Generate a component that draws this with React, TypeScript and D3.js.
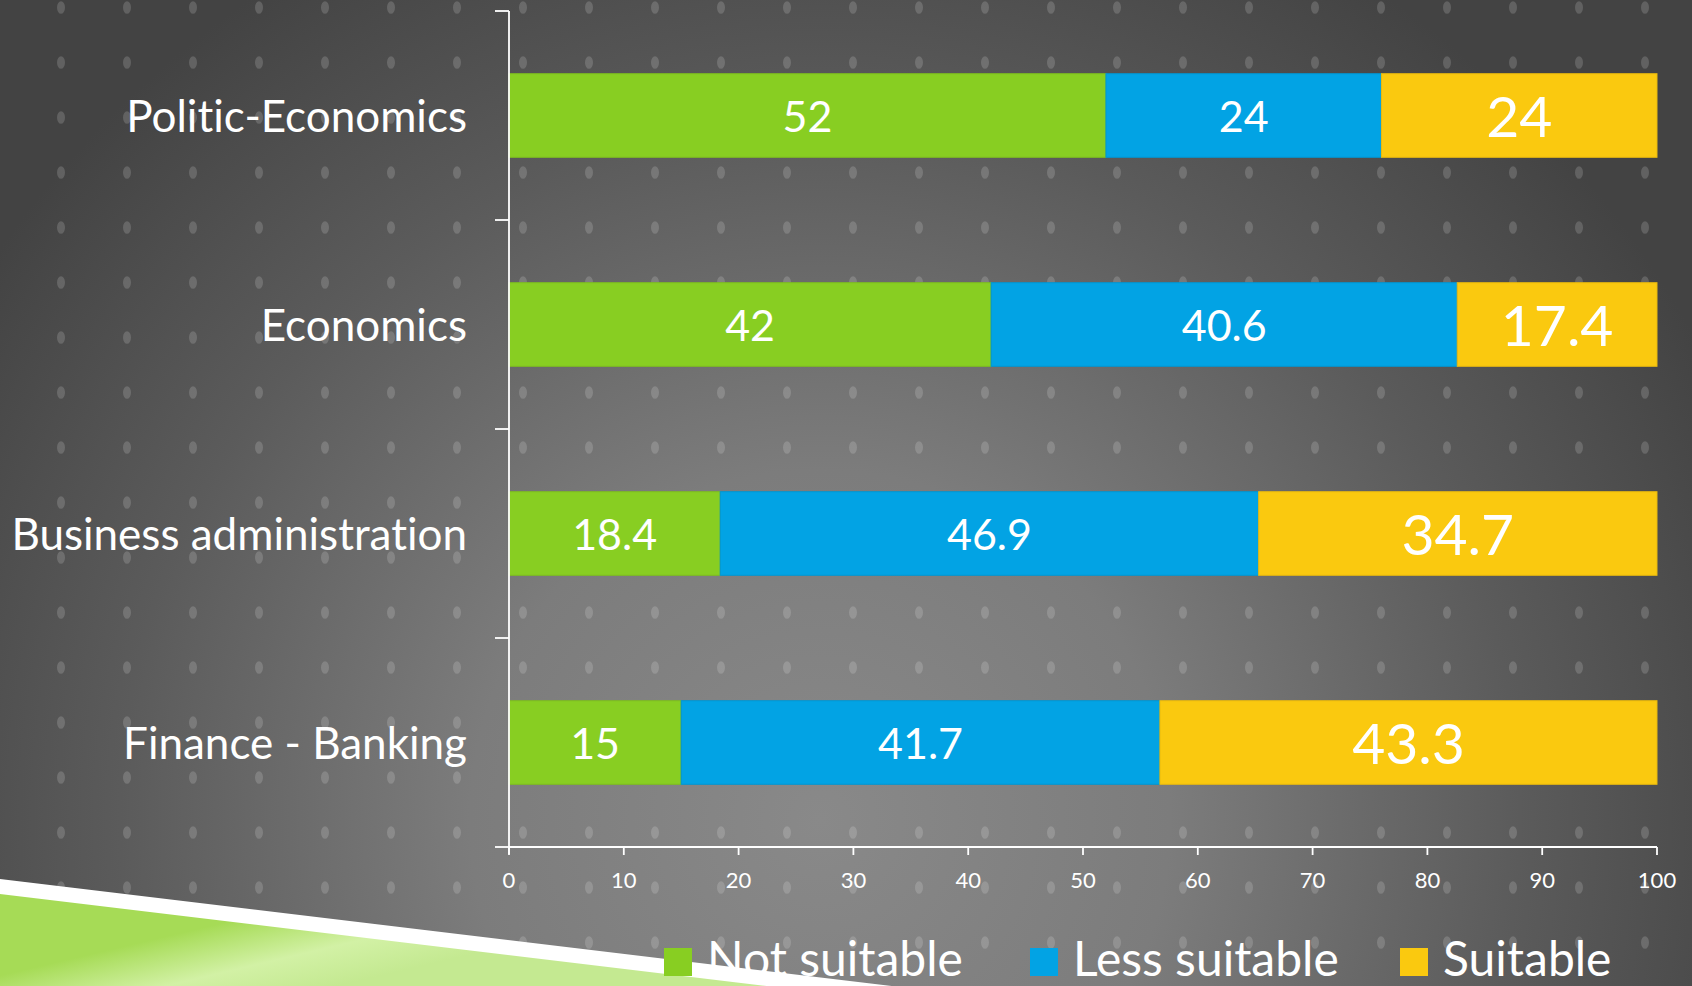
import React from "react";
import * as d3 from "d3";

const categories = ["Politic-Economics", "Economics", "Business administration", "Finance - Banking"];
const notSuitable = [52, 42, 18.4, 15];
const lessSuitable = [24, 40.6, 46.9, 41.7];
const suitable = [24, 17.4, 34.7, 43.3];
const seriesNames = ["Not suitable", "Less suitable", "Suitable"];
const seriesColors = ["#88CE22", "#02A3E4", "#FAC90F"];
const seriesStroke = ["#7DBE1E", "#0296D2", "#E8B90E"];
const xTicks = [0, 10, 20, 30, 40, 50, 60, 70, 80, 90, 100];

const W = 1692;
const H = 986;
const FONT = "Lato, 'Open Sans', sans-serif";
const TXT: React.CSSProperties = { fontVariantLigatures: "none", fontFeatureSettings: "'liga' 0" };

export default function App() {
  const x = d3.scaleLinear().domain([0, 100]).range([509, 1657]);
  const y = d3.scaleBand<string>().domain(categories).range([11, 847]).paddingInner(0.6).paddingOuter(0.3);

  const rows = categories.map((c, i) => ({
    cat: c,
    "Not suitable": notSuitable[i],
    "Less suitable": lessSuitable[i],
    Suitable: suitable[i],
  }));
  const stacked = d3.stack<any>().keys(seriesNames)(rows);

  const dots: { cx: number; cy: number }[] = [];
  for (let dx = 61; dx < W; dx += 66) {
    for (let dy = 7.5; dy < H + 10; dy += 55) dots.push({ cx: dx, cy: dy });
  }

  const step = y.step();
  const y0 = y.range()[0];
  const yTickPos = d3.range(categories.length + 1).map((i) => y0 + i * step);
  const axisY = y.range()[1];

  const legendSquares = [664, 1030, 1400];
  const legendText = [707, 1073, 1443];

  return (
    <svg width={W} height={H} style={{ position: "absolute", left: 0, top: 0, display: "block" }}>
      <defs>
        <radialGradient id="bg" gradientUnits="userSpaceOnUse" cx={820} cy={820} r={1000}>
          <stop offset="0" stopColor="#898989" />
          <stop offset="0.35" stopColor="#7c7c7c" />
          <stop offset="0.7" stopColor="#5b5b5b" />
          <stop offset="1" stopColor="#434343" />
        </radialGradient>
        <linearGradient id="grn" gradientUnits="userSpaceOnUse" x1={300} y1={905} x2={320} y2={990}>
          <stop offset="0" stopColor="#a6db56" />
          <stop offset="0.55" stopColor="#d2f1a5" />
          <stop offset="1" stopColor="#c4e991" />
        </linearGradient>
      </defs>
      <rect x={0} y={0} width={W} height={H} fill="url(#bg)" />
      <g>
        {dots.map((d, i) => (
          <ellipse key={i} cx={d.cx} cy={d.cy} rx={4} ry={6.3} fill="#ffffff" opacity={0.16} />
        ))}
      </g>

      {/* bottom-left decorative shape */}
      <polygon points={`0,879 ${(H - 879) / 0.12},${H} 0,${H}`} fill="#ffffff" />
      <polygon points={`0,894 ${(H - 894) / 0.12},${H} 0,${H}`} fill="url(#grn)" />

      {/* bars */}
      {stacked.map((s, si) => (
        <g key={s.key}>
          {s.map((d, i) => (
            <rect
              key={i}
              x={x(d[0])}
              y={y(categories[i])}
              width={x(d[1]) - x(d[0])}
              height={y.bandwidth()}
              fill={seriesColors[si]}
              stroke={seriesStroke[si]}
              strokeWidth={1}
            />
          ))}
        </g>
      ))}

      {/* value labels */}
      {stacked.map((s, si) => (
        <g key={"l" + s.key}>
          {s.map((d, i) => {
            const big = si === 2;
            const cy = (y(categories[i]) as number) + y.bandwidth() / 2;
            return (
              <text
                key={i}
                x={(x(d[0]) + x(d[1])) / 2}
                y={cy + (big ? 21 : 16)}
                textAnchor="middle"
                fill="#ffffff"
                fontFamily={FONT}
                fontSize={big ? 57 : 43}
                style={TXT}
              >
                {String(+(d[1] - d[0]).toFixed(1))}
              </text>
            );
          })}
        </g>
      ))}

      {/* y axis */}
      <line x1={x(0)} x2={x(0)} y1={y0} y2={axisY + 7} stroke="#ffffff" strokeWidth={1.8} />
      {yTickPos.map((p, i) => (
        <line key={i} x1={x(0) - 14} x2={x(0)} y1={p} y2={p} stroke="#ffffff" strokeWidth={1.8} />
      ))}
      {categories.map((c) => (
        <text
          key={c}
          x={467}
          y={(y(c) as number) + y.bandwidth() / 2 + 16}
          textAnchor="end"
          fill="#ffffff"
          fontFamily={FONT}
          fontSize={44}
          style={TXT}
        >
          {c}
        </text>
      ))}

      {/* x axis */}
      <line x1={x(0)} x2={x(100)} y1={axisY} y2={axisY} stroke="#ffffff" strokeWidth={1.8} />
      {xTicks.map((t) => (
        <g key={t}>
          <line x1={x(t)} x2={x(t)} y1={axisY} y2={axisY + 8} stroke="#ffffff" strokeWidth={1.8} />
          <text x={x(t)} y={888} textAnchor="middle" fill="#ffffff" fontFamily={FONT} fontSize={22}>
            {t}
          </text>
        </g>
      ))}

      {/* legend */}
      {seriesNames.map((n, i) => (
        <g key={n}>
          <rect x={legendSquares[i]} y={948} width={28} height={28} fill={seriesColors[i]} />
          <text x={legendText[i]} y={976} fill="#ffffff" fontFamily={FONT} fontSize={48} style={TXT}>
            {n}
          </text>
        </g>
      ))}
    </svg>
  );
}
